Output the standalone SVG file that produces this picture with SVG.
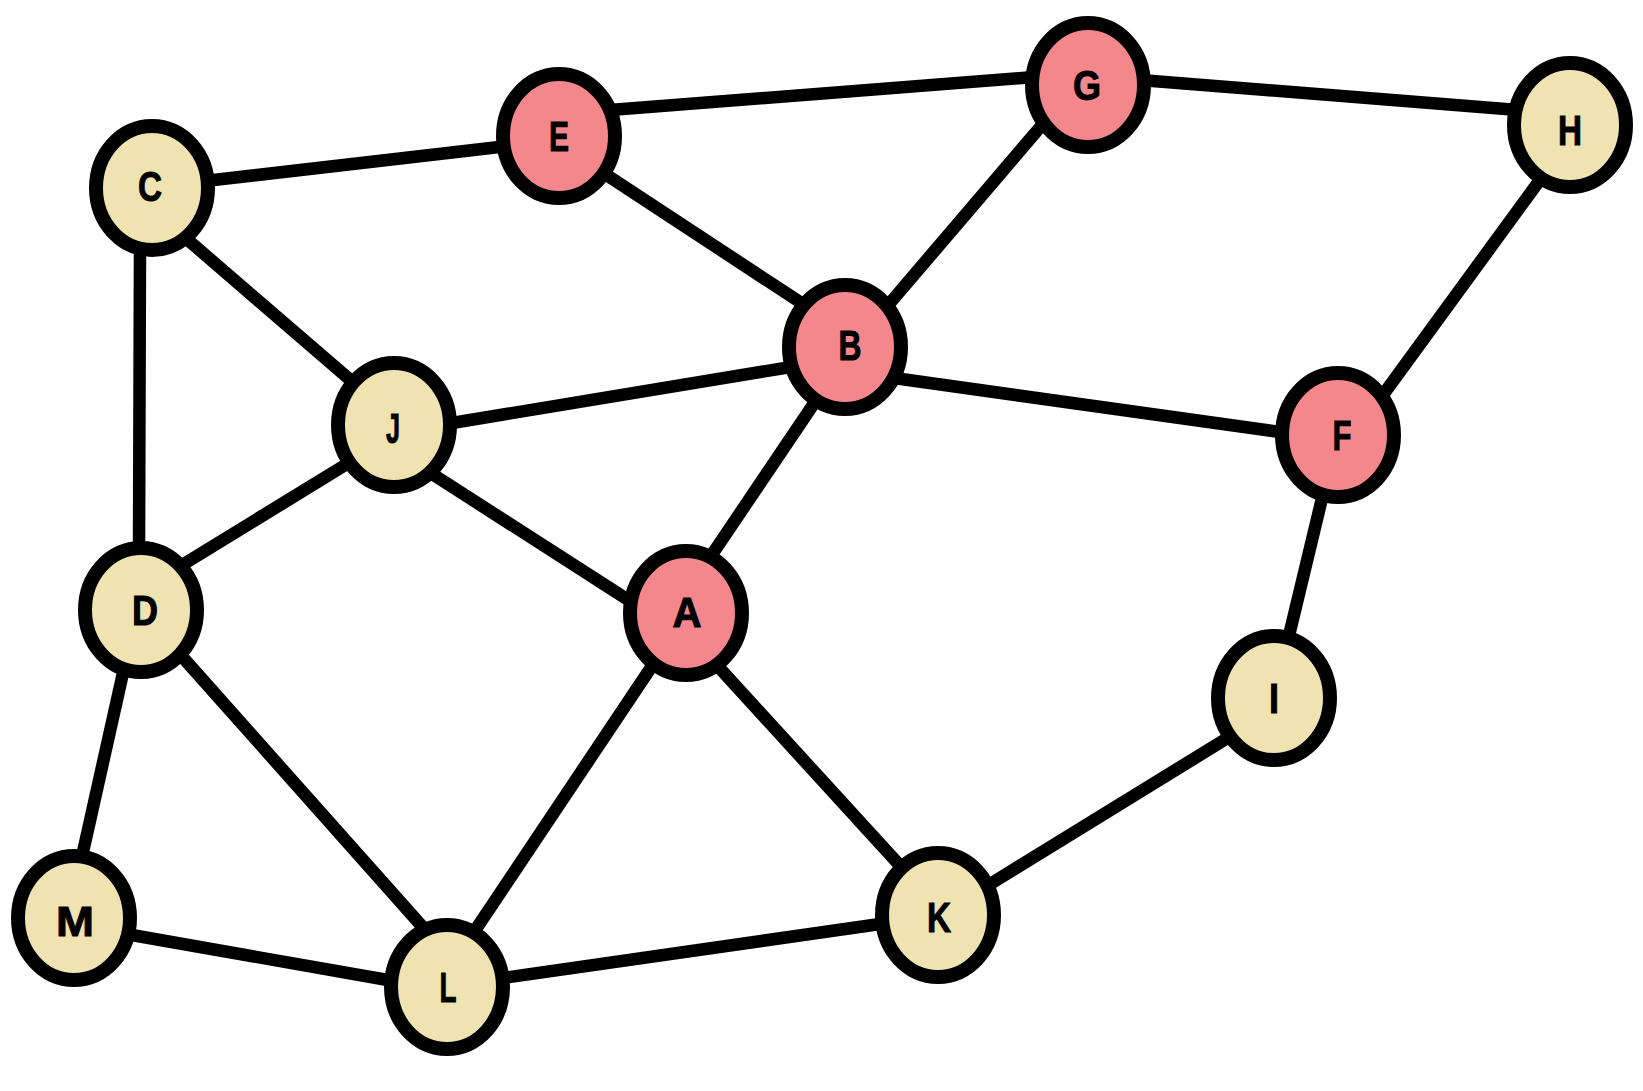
<svg xmlns="http://www.w3.org/2000/svg" width="1643" height="1091" viewBox="0 0 1643 1091">
<style>
.edge{stroke:#000;stroke-width:12.5;fill:none;stroke-linecap:butt}
.n ellipse{stroke:#000;stroke-width:14}
.red ellipse{fill:#F4878B}
.yel ellipse{fill:#EFE3B1}
.n text{font-family:"Liberation Sans",Arial,sans-serif;font-weight:bold;font-size:42px;fill:#000;stroke:#000;stroke-width:1;text-anchor:middle}
</style>
<rect width="1643" height="1091" fill="#fff"/>
<g id="edges">
<line class="edge" x1="205" y1="181" x2="508" y2="146"/>
<line class="edge" x1="610" y1="110" x2="1034" y2="77"/>
<line class="edge" x1="1140" y1="80" x2="1518" y2="110"/>
<line class="edge" x1="602" y1="172" x2="809" y2="308"/>
<line class="edge" x1="1048" y1="118" x2="884" y2="310"/>
<line class="edge" x1="1545" y1="173" x2="1380" y2="399"/>
<line class="edge" x1="181" y1="234" x2="355" y2="384"/>
<line class="edge" x1="140" y1="242" x2="139" y2="552"/>
<line class="edge" x1="446" y1="424" x2="797" y2="366"/>
<line class="edge" x1="894" y1="378" x2="1287" y2="433"/>
<line class="edge" x1="819" y1="396" x2="709" y2="559"/>
<line class="edge" x1="426" y1="470" x2="633" y2="603"/>
<line class="edge" x1="355" y1="459" x2="174" y2="570"/>
<line class="edge" x1="1324" y1="490" x2="1287" y2="644"/>
<line class="edge" x1="125" y1="664" x2="81" y2="861"/>
<line class="edge" x1="178" y1="652" x2="428" y2="933"/>
<line class="edge" x1="656" y1="660" x2="474" y2="932"/>
<line class="edge" x1="714" y1="662" x2="904" y2="870"/>
<line class="edge" x1="1234" y1="734" x2="987" y2="886"/>
<line class="edge" x1="126" y1="934" x2="399" y2="982"/>
<line class="edge" x1="503" y1="978" x2="887" y2="923"/>
</g>
<g id="node-E" class="n red"><ellipse cx="559" cy="136" rx="56" ry="62"/><text x="559" y="151" textLength="20" lengthAdjust="spacingAndGlyphs">E</text></g>
<g id="node-G" class="n red"><ellipse cx="1088" cy="85" rx="56" ry="62"/><text x="1087" y="100" textLength="28" lengthAdjust="spacingAndGlyphs">G</text></g>
<g id="node-H" class="n yel"><ellipse cx="1570" cy="125" rx="56" ry="62"/><text x="1570" y="145" textLength="24" lengthAdjust="spacingAndGlyphs">H</text></g>
<g id="node-C" class="n yel"><ellipse cx="152" cy="188" rx="56" ry="62"/><text x="150" y="201" textLength="24" lengthAdjust="spacingAndGlyphs">C</text></g>
<g id="node-B" class="n red"><ellipse cx="845" cy="347" rx="56" ry="62"/><text x="850" y="360" textLength="23" lengthAdjust="spacingAndGlyphs">B</text></g>
<g id="node-J" class="n yel"><ellipse cx="394" cy="425" rx="56" ry="62"/><text x="393" y="443" textLength="14" lengthAdjust="spacingAndGlyphs">J</text></g>
<g id="node-F" class="n red"><ellipse cx="1338" cy="435" rx="56" ry="62"/><text x="1342" y="450" textLength="19" lengthAdjust="spacingAndGlyphs">F</text></g>
<g id="node-D" class="n yel"><ellipse cx="141" cy="610" rx="56" ry="62"/><text x="145" y="625" textLength="26" lengthAdjust="spacingAndGlyphs">D</text></g>
<g id="node-A" class="n red"><ellipse cx="686" cy="613" rx="56" ry="62"/><text x="687" y="627" textLength="29" lengthAdjust="spacingAndGlyphs">A</text></g>
<g id="node-I" class="n yel"><ellipse cx="1274" cy="698" rx="56" ry="62"/><text x="1274" y="713" textLength="10" lengthAdjust="spacingAndGlyphs">I</text></g>
<g id="node-M" class="n yel"><ellipse cx="74" cy="918" rx="56" ry="62"/><text x="75" y="936" textLength="38" lengthAdjust="spacingAndGlyphs">M</text></g>
<g id="node-K" class="n yel"><ellipse cx="938" cy="915" rx="56" ry="62"/><text x="939" y="932" textLength="24" lengthAdjust="spacingAndGlyphs">K</text></g>
<g id="node-L" class="n yel"><ellipse cx="447" cy="987" rx="56" ry="62"/><text x="448" y="1002" textLength="17" lengthAdjust="spacingAndGlyphs">L</text></g>
</svg>
